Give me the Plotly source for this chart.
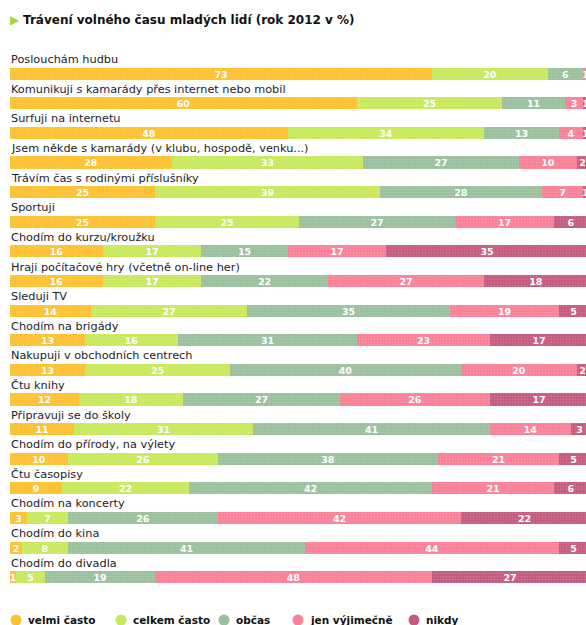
import plotly.graph_objects as go

categories = [
    "Poslouchám hudbu",
    "Komunikuji s kamarády přes internet nebo mobil",
    "Surfuji na internetu",
    "Jsem někde s kamarády (v klubu, hospodě, venku...)",
    "Trávím čas s rodinými příslušníky",
    "Sportuji",
    "Chodím do kurzu/kroužku",
    "Hraji počítačové hry (včetně on-line her)",
    "Sleduji TV",
    "Chodím na brigády",
    "Nakupuji v obchodních centrech",
    "Čtu knihy",
    "Připravuji se do školy",
    "Chodím do přírody, na výlety",
    "Čtu časopisy",
    "Chodím na koncerty",
    "Chodím do kina",
    "Chodím do divadla",
]

velmi_casto   = [73, 60, 48, 28, 25, 25, 16, 16, 14, 13, 13, 12, 11, 10, 9, 3, 2, 1]
celkem_casto  = [20, 25, 34, 33, 39, 25, 17, 17, 27, 16, 25, 18, 31, 26, 22, 7, 8, 5]
obcas         = [6, 11, 13, 27, 28, 27, 15, 22, 35, 31, 40, 27, 41, 38, 42, 26, 41, 19]
jen_vyjimecne = [1, 3, 4, 10, 7, 17, 17, 27, 19, 23, 20, 26, 14, 21, 21, 42, 44, 48]
nikdy         = [0, 1, 1, 2, 1, 6, 35, 18, 5, 17, 2, 17, 3, 5, 6, 22, 5, 27]

series_names = ["velmi často", "celkem často", "občas", "jen výjimečně", "nikdy"]
series_values = [velmi_casto, celkem_casto, obcas, jen_vyjimecne, nikdy]
colors = ["#FEC02F", "#C8E95B", "#9ABF9C", "#FA7F97", "#C45A7E"]

title_text = "Trávení volného času mladých lidí (rok 2012 v %)"

FONT = "DejaVu Sans"
W, H = 586, 625
ML, MR, MT, MB = 10, 0, 47, 30
PW, PH = W - ML - MR, H - MT - MB


def px_x(p):
    return (p - ML) / PW


def px_y(q):
    return (H - MB - q) / PH


ypos = list(range(len(categories)))

fig = go.Figure()
for name, vals, col in zip(series_names, series_values, colors):
    fig.add_trace(go.Bar(
        x=vals, y=ypos, orientation="h", name=name,
        marker=dict(color=col, line=dict(width=0),
                    pattern=dict(shape=".", fgcolor="white", fgopacity=0.15, size=3, solidity=0.3)),
        text=[str(v) if v > 0 else "" for v in vals],
        textposition="inside", insidetextanchor="middle", textangle=0,
        textfont=dict(family=FONT, size=9.5, color="white", weight="bold"),
        width=0.41, showlegend=False, hoverinfo="skip",
    ))

for i, cat in enumerate(categories):
    fig.add_annotation(
        x=0, y=i, xref="x", yref="y", text=cat, showarrow=False,
        xanchor="left", yanchor="middle", yshift=14, xshift=-1,
        font=dict(family=FONT, size=11.3, color="#1c1c2a"),
    )

# title
fig.add_annotation(
    x=px_x(8), y=px_y(20), xref="paper", yref="paper", yanchor="middle", xanchor="left",
    text="<span style='color:#A5D63C;font-size:12px'>▶</span> <b>" + title_text + "</b>",
    showarrow=False, font=dict(family=FONT, size=12, color="#111111"),
)

# legend (manual, circles + bold labels)
legend_circle_px = [16, 121, 224, 298, 414]
legend_y = 620
for name, col, cx in zip(series_names, colors, legend_circle_px):
    fig.add_shape(
        type="circle", xref="paper", yref="paper",
        xsizemode="pixel", ysizemode="pixel",
        xanchor=px_x(cx), yanchor=px_y(legend_y),
        x0=-5.5, x1=5.5, y0=-5.5, y1=5.5,
        fillcolor=col, line=dict(width=0),
    )
    fig.add_annotation(
        x=px_x(cx + 10), y=px_y(legend_y), xref="paper", yref="paper",
        xanchor="left", yanchor="middle", showarrow=False,
        text="<b>" + name + "</b>",
        font=dict(family=FONT, size=10.5, color="#111111"),
    )

fig.update_layout(
    width=W, height=H,
    margin=dict(l=ML, r=MR, t=MT, b=MB),
    barmode="stack",
    bargap=0,
    plot_bgcolor="white", paper_bgcolor="white",
    uniformtext=dict(minsize=9, mode="show"),
    xaxis=dict(range=[0, 99.6], visible=False, fixedrange=True),
    yaxis=dict(range=[17.6, -0.9], visible=False, fixedrange=True),
    showlegend=False,
)

fig.write_html(
    "out.html",
    config={"displayModeBar": False},
    post_script="document.body.style.margin='0';document.body.style.overflow='hidden';",
)
